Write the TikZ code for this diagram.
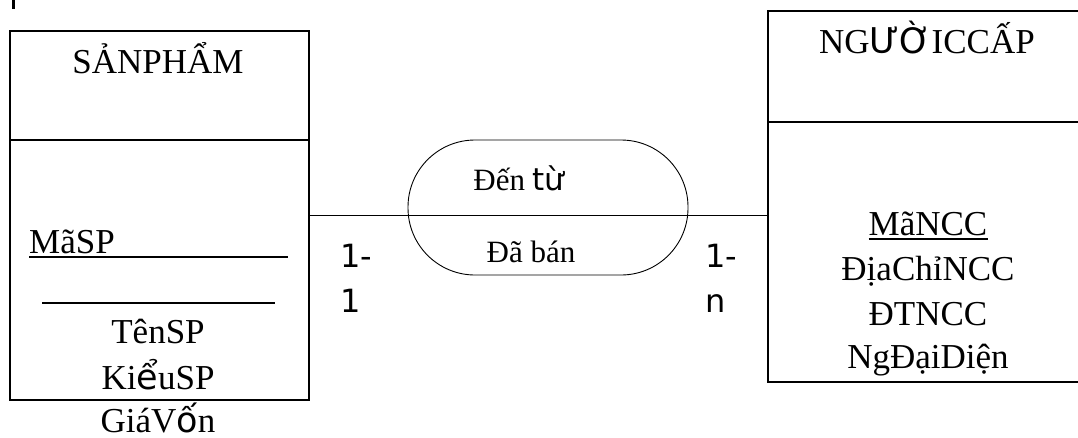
\documentclass[tikz,border=0pt]{standalone}
\usepackage{fontspec}
\setmainfont{Liberation Serif}
\newfontfamily\dv{DejaVu Sans}
\begin{document}
\begin{tikzpicture}[x=1pt,y=-1pt,
  entbox/.style={draw,line width=1.8pt,minimum width=#1,inner sep=0pt,anchor=north west},
  big/.style={font=\fontsize{35}{42}\selectfont,inner sep=0pt,anchor=base},
  rel/.style={font=\fontsize{31}{37}\selectfont,inner sep=0pt,anchor=base},
  card/.style={font=\dv\fontsize{32}{38}\selectfont,inner sep=0pt,anchor=base west},
  attrline/.style={line width=1.8pt}]
\useasboundingbox (0,0) rectangle (1078,437);
\clip (0,0) rectangle (1078,437);
\fill (12,0) rectangle (15,9);
% left entity
\node[entbox=299pt,minimum height=369pt] (sp) at (9,30) {};
\draw[line width=1.8pt] (9,140) -- (308,140);
\node[big] (spname) at (158,73) {SẢNPHẨM};
\node[big,anchor=base west] (masp) at (29,253) {MãSP};
\draw[attrline] (29,257) -- (288,257);
\draw[attrline] (42,303) -- (275,303);
\node[big] (tensp) at (158,343) {TênSP};
\node[big] (kieusp) at (158,389) {Ki{\dv ể}uSP};
\node[big,text depth=0pt] (giavon) at (158,432) {GiáV{\dv ố}n};
% right entity
\node[entbox=320pt,minimum height=371pt] (ncc) at (767,10) {};
\draw[line width=1.8pt] (767,122) -- (1087,122);
\node[big] (nccname) at (927,53) {NG{\dv ƯỜ}ICCẤP};
\node[big] (mancc) at (928,235) {MãNCC};
\draw[line width=1.3pt] ([yshift=-4pt]mancc.base west) -- ([yshift=-4pt]mancc.base east);
\node[big] (diachi) at (928,280) {ĐịaChỉNCC};
\node[big] (dt) at (928,325) {ĐTNCC};
\node[big] (ngdd) at (928,368) {NgĐạiDiện};
% relationship
\node[draw,line width=0.9pt,minimum width=280pt,minimum height=135pt,rounded corners=67pt,inner sep=0pt] (relbox) at (548,207.5) {};
\draw[line width=1.6pt] (sp.east) -- (sp.east -| ncc.west);
\node[rel] (den) at (519,190) {Đến {\dv từ}};
\node[rel] (daban) at (531,262) {Đã bán};
% cardinalities
\node[card] (c1a) at (340,267) {1-};
\node[card] (c1b) at (340,312) {1};
\node[card] (c2a) at (705,267) {1-};
\node[card] (c2b) at (705,312) {n};
\end{tikzpicture}
\end{document}
